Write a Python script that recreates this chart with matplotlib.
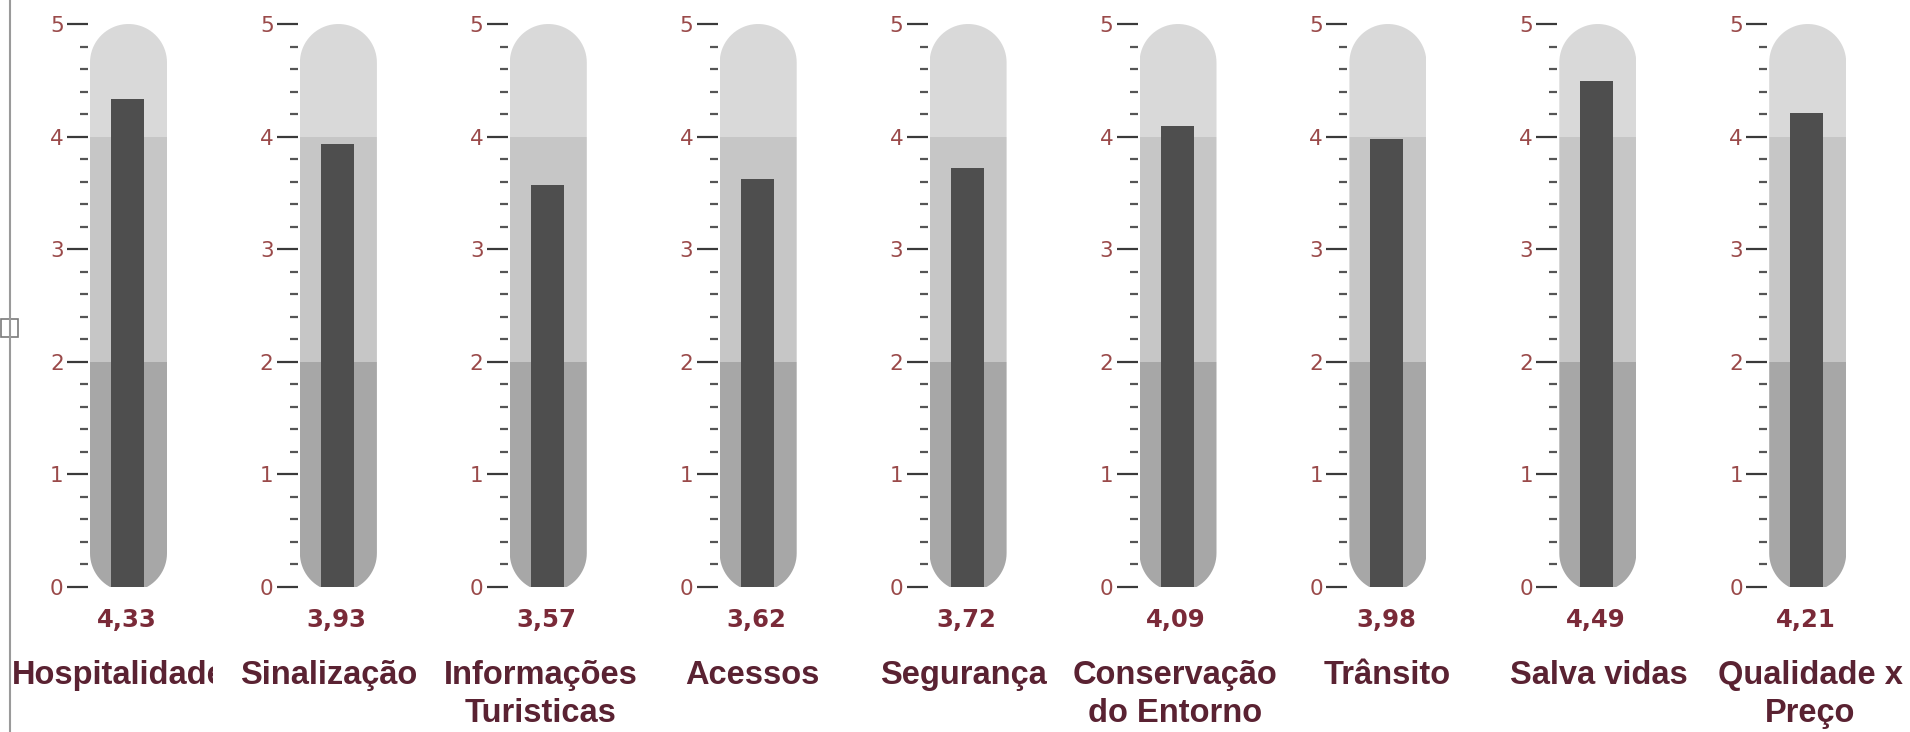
import numpy as np
import matplotlib
matplotlib.use("Agg")
import matplotlib.pyplot as plt
from matplotlib.path import Path
from matplotlib.patches import PathPatch, Rectangle
from matplotlib.transforms import Bbox, TransformedBbox

# ---------------- data ----------------
categories = ["Hospitalidade", "Sinalização", "Informações\nTuristicas", "Acessos",
              "Segurança", "Conservação\ndo Entorno", "Trânsito", "Salva vidas",
              "Qualidade x\nPreço"]
values = [4.33, 3.93, 3.57, 3.62, 3.72, 4.09, 3.98, 4.49, 4.21]
major_ticks = [0, 1, 2, 3, 4, 5]
tick_labels = ["0", "1", "2", "3", "4", "5"]
band_edges = [0, 2, 4, 5]
band_colors = ["#a7a7a7", "#c6c6c6", "#d9d9d9"]

# ---------------- layout (pixels) ----------------
W, H = 1910, 732
DPI = 100
fig = plt.figure(figsize=(W / DPI, H / DPI), dpi=DPI, facecolor="white")

cx0, step = 128.5, 209.9
y0_px, y5_px = 587, 24        # pixel rows (from top) of value 0 and value 5
half_w = 40.5                 # half width of each axes in px
tube_r = 38.5                 # tube radius in px
bar_l, bar_r = -17.5, 15.5    # bar extent in px relative to centre
lab_x0, lab_step = 117.4, 211.6

ax_h = y0_px - y5_px
ppu = ax_h / 5.0              # px per value unit

label_color = "#5a2232"
value_color = "#7a2a38"
ticklab_color = "#9a4a4a"

for i, (cat, val) in enumerate(zip(categories, values)):
    cx = cx0 + step * i
    left = (cx - half_w) / W
    bottom = (H - y0_px) / H
    ax = fig.add_axes([left, bottom, 2 * half_w / W, ax_h / H])
    ax.set_xlim(-half_w, half_w)
    ax.set_ylim(0, 5)
    for s in ax.spines.values():
        s.set_visible(False)
    ax.set_facecolor("none")

    # capsule outline
    ry = tube_r / ppu
    top_c = 5 - ry
    bot_c = 0.30
    th1 = np.linspace(0, np.pi, 40)
    th2 = np.linspace(np.pi, 2 * np.pi, 40)
    xs = np.concatenate([tube_r * np.cos(th1), tube_r * np.cos(th2)])
    ys = np.concatenate([top_c + ry * np.sin(th1), bot_c + ry * np.sin(th2)])
    verts = np.column_stack([xs, ys])
    verts = np.vstack([verts, verts[:1]])
    codes = [Path.MOVETO] + [Path.LINETO] * (len(verts) - 2) + [Path.CLOSEPOLY]
    capsule = PathPatch(Path(verts, codes), facecolor="none", edgecolor="none")
    ax.add_patch(capsule)

    for (lo, hi), c in zip(zip(band_edges[:-1], band_edges[1:]), band_colors):
        r = Rectangle((-tube_r, lo - 0.1 if lo == 0 else lo), 2 * tube_r,
                      (hi - lo) + (0.1 if lo == 0 else 0) + (0.1 if hi == 5 else 0),
                      facecolor=c, edgecolor="none")
        ax.add_patch(r)
        r.set_clip_path(capsule)

    # value bar
    ax.bar([(bar_l + bar_r) / 2], [val], width=bar_r - bar_l, color="#4e4e4e",
           edgecolor="none", zorder=3)

    # ticks
    ax.set_xticks([])
    ax.set_yticks(major_ticks)
    ax.set_yticklabels(tick_labels)
    ax.set_yticks(np.arange(0, 5.01, 0.2), minor=True)
    ax.tick_params(axis="y", which="major", length=15, width=1.6, color="#3a3a3a",
                   pad=2.5, labelsize=15.5, labelcolor=ticklab_color)
    ax.tick_params(axis="y", which="minor", length=5.5, width=1.6, color="#555555")

    # value text
    txt = f"{val:.2f}".replace(".", ",")
    fig.text((cx - 2) / W, 1 - 620 / H, txt, ha="center", va="center",
             fontsize=17.5, fontweight="bold", color=value_color,
             family="DejaVu Sans")

    # category label
    if i == 0:
        t = fig.text(12 / W, 1 - 660 / H, cat, ha="left", va="top",
                     fontsize=23.5, fontweight="bold", color=label_color,
                     family="Liberation Sans", linespacing=1.28)
        bb = TransformedBbox(Bbox.from_extents(0, 0, 213 / W, 1), fig.transFigure)
        t.set_clip_box(bb)
        t.set_clip_on(True)
    else:
        lx = lab_x0 + lab_step * i
        fig.text(lx / W, 1 - 660 / H, cat, ha="center", va="top",
                 fontsize=23.5, fontweight="bold", color=label_color,
                 family="Liberation Sans", linespacing=1.28)

# left border line with handle
fig.add_artist(plt.Line2D([9.5 / W, 9.5 / W], [0, 1], color="#9a9a9a", lw=1.5,
                          transform=fig.transFigure))
fig.add_artist(Rectangle((1 / W, 1 - 337 / H), 17 / W, 18 / H, transform=fig.transFigure,
                         facecolor="white", edgecolor="#7a7a7a", lw=1.2))

fig.savefig("out.png", dpi=DPI, facecolor="white")
